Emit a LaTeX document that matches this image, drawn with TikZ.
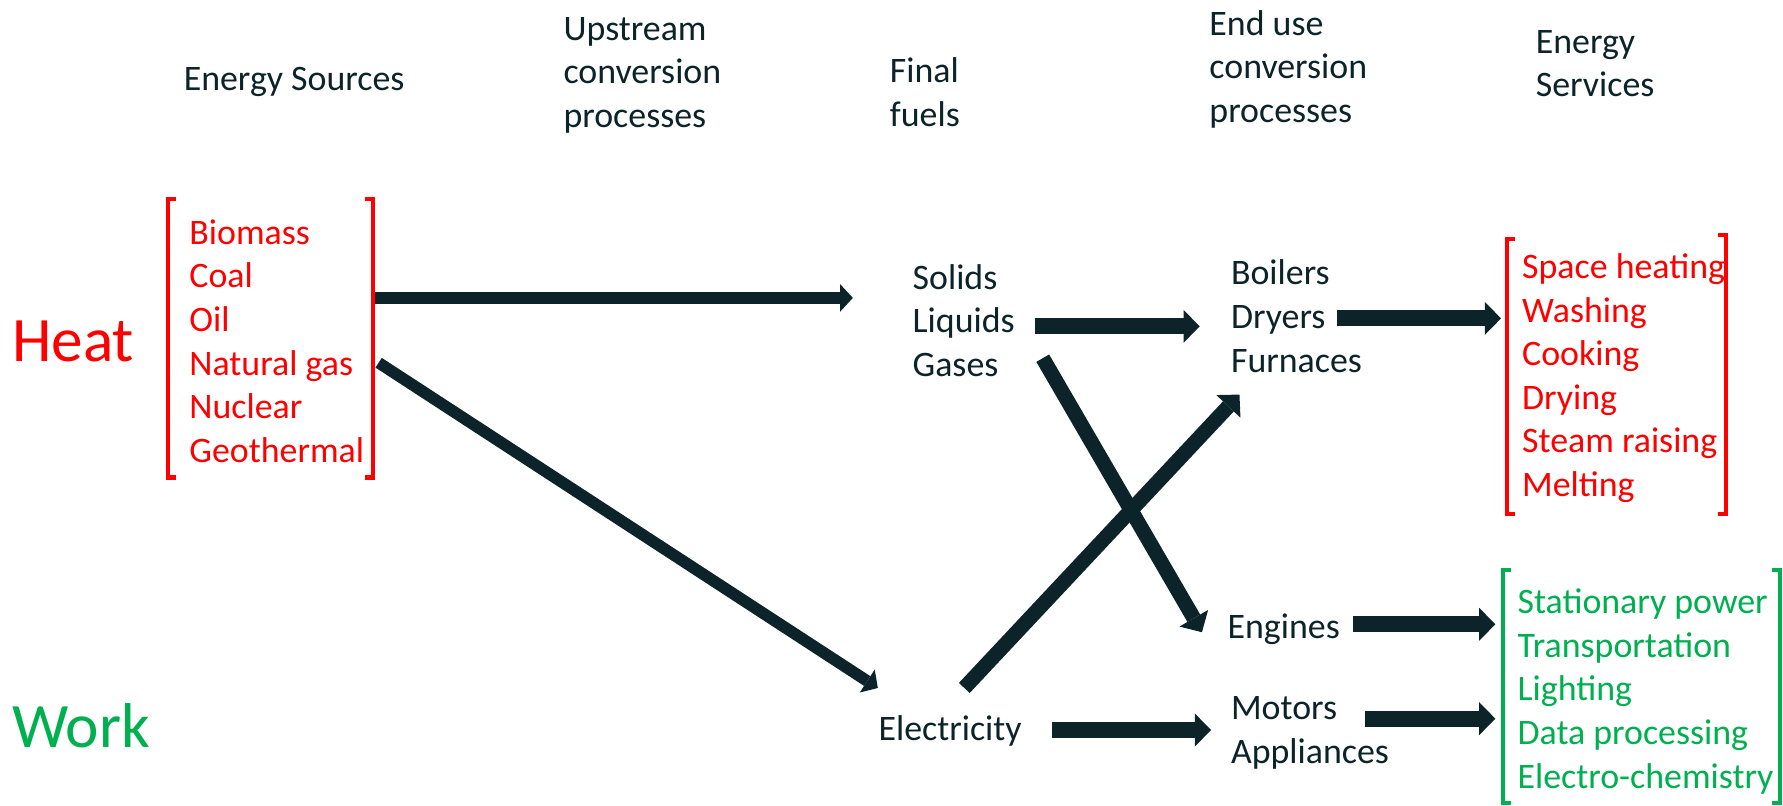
\documentclass[tikz,border=0pt]{standalone}
\usepackage{fontspec}
\setmainfont{Carlito}
\usepackage{tikz}
\usetikzlibrary{arrows.meta, calc, positioning}
\usepackage{xcolor}
\definecolor{darkc}{HTML}{0C2329}
\definecolor{heatred}{HTML}{FF0000}
\definecolor{workgreen}{HTML}{00B050}

\tikzset{
    txt/.style={inner sep=0pt, anchor=west, align=left, text=darkc, font=\fontsize{10.2}{12.4}\selectfont},
    head/.style={txt},
    big/.style={inner sep=0pt, anchor=west, font=\fontsize{18}{21}\selectfont},
    brk/.style={line width=1.2pt},
    flow/.style={draw=darkc, line width=3.3pt, -{Triangle[length=3.6pt, width=7.8pt, line width=0pt]}},
    fatflow/.style={draw=darkc, line width=4.6pt, -{Triangle[length=4.6pt, width=9.4pt, line width=0pt]}}
}

\begin{document}
\begin{tikzpicture}[x=0.011371cm, y=-0.011371cm]
            \useasboundingbox (0,0) rectangle (1568,708);
            % Column headings
            \node[head] (hsrc) at (161,72) {Energy Sources};
            \node[head] (hup)  at (495,66) {Upstream\\conversion\\processes};
            \node[head] (hfin) at (782,81) {Final\\fuels};
            \node[head] (hend) at (1063,61) {End use\\conversion\\processes};
            \node[head] (hsvc) at (1350,56) {Energy\\Services};
            % Heat and work on the left
            \node[big, text=heatred]   (heat) at (10,300) {Heat};
            \node[big, text=workgreen] (work) at (10,638) {Work};
            % The lists
            \node[txt, text=heatred] (src) at (166,300) {Biomass\\Coal\\Oil\\Natural gas\\Nuclear\\Geothermal};
            \node[txt] (fuels)   at (802,282) {Solids\\Liquids\\Gases};
            \node[txt] (enduse)  at (1082,278) {Boilers\\Dryers\\Furnaces};
            \node[txt] (engines) at (1079,553) {Engines};
            \node[txt] (motors)  at (1082,644.5) {Motors\\Appliances};
            \node[txt] (elec)    at (772,643) {Electricity};
            \node[txt, text=heatred] (heatsvc) at (1338,332.5) {Space heating\\Washing\\Cooking\\Drying\\Steam raising\\Melting};
            \node[txt, text=workgreen] (worksvc) at (1334,608) {Stationary power\\Transportation\\Lighting\\Data processing\\Electro-chemistry};
            % Brackets round the lists
            \draw[brk, heatred] (155,175) -| (148,420) -- (155,420);
            \draw[brk, heatred] (321,175) -| (328,420) -- (321,420);
            \draw[brk, heatred] (1332,210) -| (1325,452) -- (1332,452);
            \draw[brk, heatred] (1511,207) -| (1518,452) -- (1511,452);
            \draw[brk, workgreen] (1329,501) -| (1322,706) -- (1329,706);
            \draw[brk, workgreen] (1558,501) -| (1565,706) -- (1558,706);
            % Flows
            \draw[flow] ($(src.west)+(164,-38)$) -- ($(fuels.west)+(-52,-20)$);
            \draw[flow] ($(src.west)+(167,19)$) -- ($(elec.west)+(0,-38)$);
            \draw[fatflow] ($(fuels.west)+(108,5)$) -- ($(enduse.west)+(-27,9)$);
            \draw[fatflow] ($(enduse.west)+(94,2)$) -- ($(heatsvc.west)+(-18,-52.5)$);
            \draw[fatflow, line width=4.2pt] ($(fuels.west)+(115,33)$) -- ($(engines.west)+(-22,3)$);
            \draw[fatflow, line width=4.2pt] ($(elec.west)+(76,-38)$) -- ($(enduse.west)+(8,69)$);
            \draw[fatflow] ($(engines.west)+(111,-4)$) -- ($(worksvc.west)+(-19,-59)$);
            \draw[fatflow] ($(elec.west)+(153,-1)$) -- ($(motors.west)+(-17,-2.5)$);
            \draw[fatflow] ($(motors.west)+(118,-12.5)$) -- ($(worksvc.west)+(-19,24)$);
        \end{tikzpicture}
\end{document}
